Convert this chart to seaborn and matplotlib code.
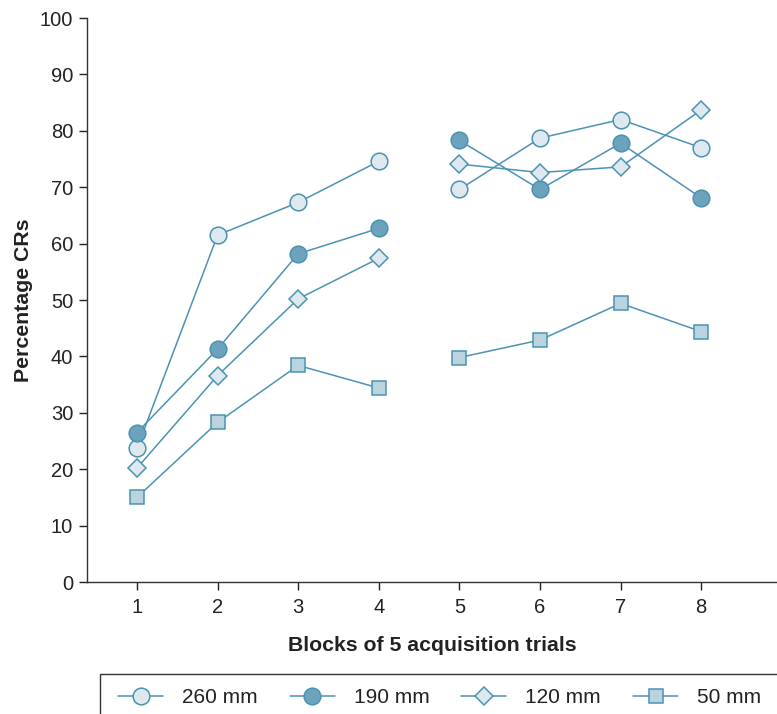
import matplotlib
matplotlib.use("Agg")
import matplotlib.pyplot as plt
from matplotlib.lines import Line2D
from matplotlib.patches import Rectangle
import seaborn as sns
import pandas as pd

blocks = [1, 2, 3, 4, 5, 6, 7, 8]
labels = ["260 mm", "190 mm", "120 mm", "50 mm"]
v260 = [23.7, 61.5, 67.3, 74.6, 69.6, 78.7, 82.0, 77.0]
v190 = [26.5, 41.3, 58.2, 62.7, 78.3, 69.6, 77.8, 68.1]
v120 = [20.2, 36.6, 50.2, 57.4, 74.1, 72.6, 73.6, 83.7]
v50 = [15.0, 28.3, 38.4, 34.4, 39.8, 42.9, 49.4, 44.4]
yticks = [0, 10, 20, 30, 40, 50, 60, 70, 80, 90, 100]

sns.set_theme(style="ticks")
plt.rcParams["font.family"] = ["Liberation Sans", "DejaVu Sans"]

line_c = "#4a93b5"
edge_c = "#4b92b3"
styles = {
    "260 mm": dict(marker="o", markerfacecolor="#dde8ef", markersize=12),
    "190 mm": dict(marker="o", markerfacecolor="#6ca3bc", markersize=12),
    "120 mm": dict(marker="D", markerfacecolor="#dde8ef", markersize=9.3),
    "50 mm": dict(marker="s", markerfacecolor="#b9d3df", markersize=10),
}

rows = []
for lab, vals in zip(labels, [v260, v190, v120, v50]):
    for b, v in zip(blocks, vals):
        rows.append({"block": b, "pct": v, "size": lab, "seg": 0 if b <= 4 else 1})
df = pd.DataFrame(rows)

W, H = 777, 714
fig = plt.figure(figsize=(W / 100, H / 100), dpi=100)
ax = fig.add_axes([87 / W, 1 - 582 / H, 1 - 87 / W, (582 - 18) / H])

for lab in labels:
    st = styles[lab]
    for s in (0, 1):
        d = df[(df["size"] == lab) & (df["seg"] == s)]
        sns.lineplot(data=d, x="block", y="pct", ax=ax, color=line_c, lw=1.1,
                     marker=st["marker"], markersize=st["markersize"],
                     markerfacecolor=st["markerfacecolor"], markeredgecolor=edge_c,
                     markeredgewidth=1.1, estimator=None, legend=False)

ax.set_xlim(0.38, 8.94)
ax.set_ylim(0, 100)
ax.set_xticks(blocks)
ax.set_yticks(yticks)
ax.tick_params(axis="both", direction="out", length=5.5, width=1, labelsize=14.5,
               colors="#222222")
ax.tick_params(axis="y", pad=4.5)
ax.tick_params(axis="x", pad=6)
for sp in ["top", "right"]:
    ax.spines[sp].set_visible(False)
for sp in ["left", "bottom"]:
    ax.spines[sp].set_color("#333333")
    ax.spines[sp].set_linewidth(1)
ax.set_xlabel("Blocks of 5 acquisition trials", fontsize=15.3, fontweight="bold",
              color="#222222", labelpad=14)
ax.set_ylabel("Percentage CRs", fontsize=15.3, fontweight="bold", color="#222222",
              labelpad=5)

# legend frame (extends past the figure edge like the reference)
fig.add_artist(Rectangle((100 / W, -0.1), 1.0, 0.1 + 1 - 674 / H,
                         transform=fig.transFigure, fill=False,
                         edgecolor="#333333", lw=1, clip_on=False))

handles = []
for lab in labels:
    st = styles[lab]
    handles.append(Line2D([0], [0], color=line_c, lw=1.1, marker=st["marker"],
                          markersize=st["markersize"],
                          markerfacecolor=st["markerfacecolor"],
                          markeredgecolor=edge_c, markeredgewidth=1.1))
leg = fig.legend(handles, labels, loc="upper left",
                 bbox_to_anchor=(118 / W, 1 - 688 / H), ncol=4,
                 frameon=False, fontsize=15, handlelength=2.16,
                 handletextpad=0.91, columnspacing=1.54, borderpad=0,
                 borderaxespad=0)
for t in leg.get_texts():
    t.set_color("#222222")

fig.savefig("out.png", dpi=100)
